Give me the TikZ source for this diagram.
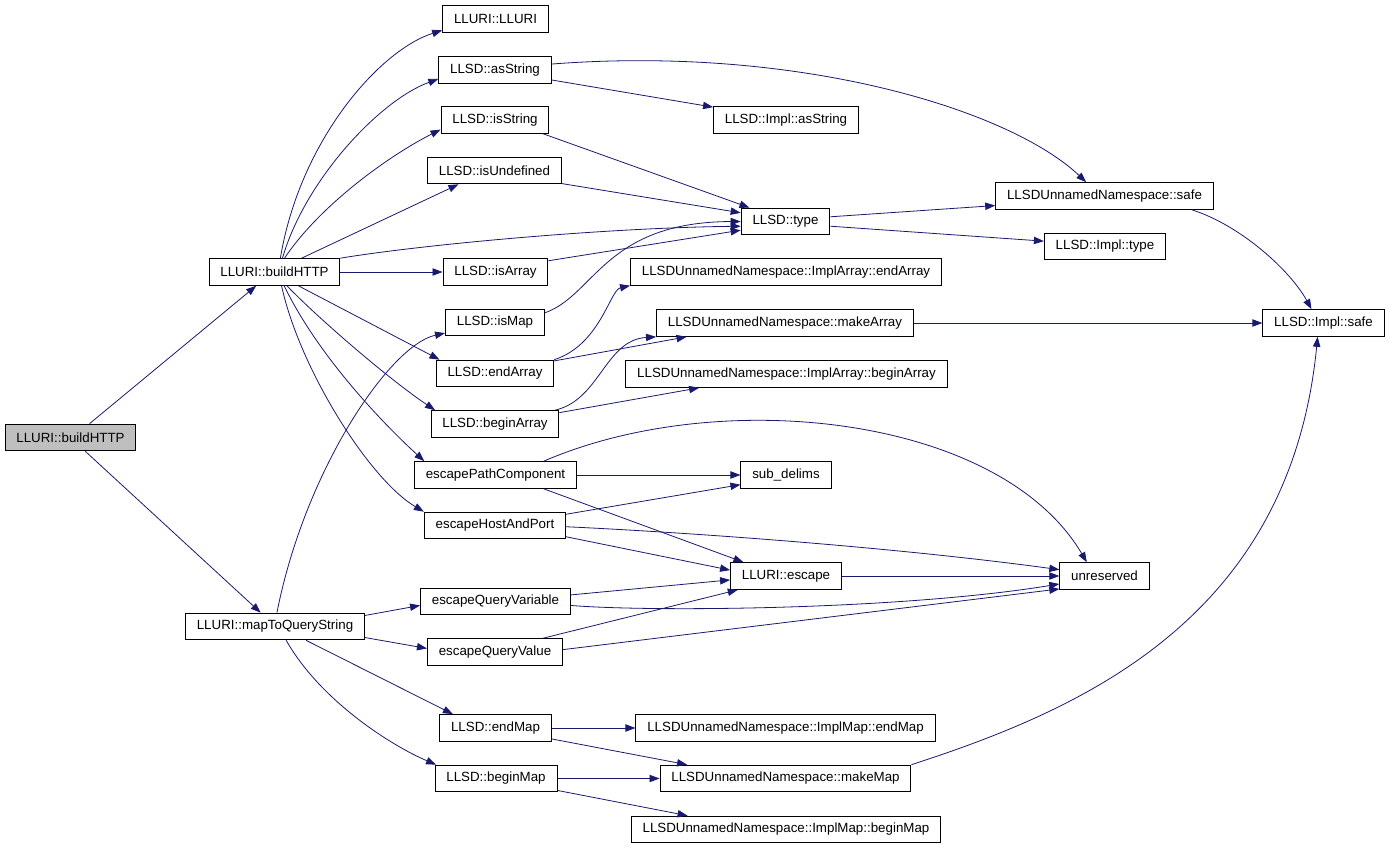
\documentclass[tikz,border=0pt]{standalone}
\usepackage{fontspec}
\setmainfont{Liberation Sans}
\usetikzlibrary{arrows.meta}
\definecolor{edgeblue}{RGB}{25,25,112}
\tikzset{
	callnode/.style = {draw=black, rectangle, line width=0.75pt, inner xsep=8.5pt,
		inner ysep=0pt, minimum height=20pt, font=\fontsize{10}{12}\selectfont},
	rootnode/.style = {callnode, fill=black!25},
	call/.style = {edgeblue, line width=0.6pt}
}
\begin{document}
\begin{tikzpicture}[x=0.75pt,y=-0.75pt,->,>={Triangle[length=7.5pt,width=5.5pt]}]
\useasboundingbox (0,0) rectangle (1389,848);
% callers
\node[rootnode] (root) at (70.5,437.5) {LLURI::buildHTTP};
\node[callnode] (bh) at (274.5,272) {LLURI::buildHTTP};
\node[callnode] (mq) at (275,626.5) {LLURI::mapToQueryString};
% second column
\node[callnode] (lluri) at (495.5,19) {LLURI::LLURI};
\node[callnode] (asstr) at (495,70) {LLSD::asString};
\node[callnode] (isstr) at (495,120) {LLSD::isString};
\node[callnode] (isundef) at (494.5,170.5) {LLSD::isUndefined};
\node[callnode] (isarr) at (495.5,272) {LLSD::isArray};
\node[callnode] (ismap) at (495,322.5) {LLSD::isMap};
\node[callnode] (endarr) at (495,373.5) {LLSD::endArray};
\node[callnode] (beginarr) at (495,424) {LLSD::beginArray};
\node[callnode] (escpath) at (495.5,475) {escapePathComponent};
\node[callnode] (eschost) at (495,525.5) {escapeHostAndPort};
\node[callnode] (escvar) at (495.5,601.5) {escapeQueryVariable};
\node[callnode] (escval) at (495,652) {escapeQueryValue};
\node[callnode] (endmap) at (495.5,728) {LLSD::endMap};
\node[callnode] (beginmap) at (496,778.5) {LLSD::beginMap};
% third column
\node[callnode] (implasstr) at (786,120) {LLSD::Impl::asString};
\node[callnode] (type) at (785.5,221.5) {LLSD::type};
\node[callnode] (iaend) at (786,272) {LLSDUnnamedNamespace::ImplArray::endArray};
\node[callnode] (makearr) at (785,323) {LLSDUnnamedNamespace::makeArray};
\node[callnode] (iabegin) at (786.5,374) {LLSDUnnamedNamespace::ImplArray::beginArray};
\node[callnode] (subdelims) at (786,475) {sub\_delims};
\node[callnode] (escape) at (786,576) {LLURI::escape};
\node[callnode] (imend) at (785.5,728) {LLSDUnnamedNamespace::ImplMap::endMap};
\node[callnode] (makemap) at (785.5,778.5) {LLSDUnnamedNamespace::makeMap};
\node[callnode] (imbegin) at (786,829.5) {LLSDUnnamedNamespace::ImplMap::beginMap};
% right columns
\node[callnode] (nssafe) at (1104.5,196) {LLSDUnnamedNamespace::safe};
\node[callnode] (impltype) at (1105,246.5) {LLSD::Impl::type};
\node[callnode] (unres) at (1104.5,576) {unreserved};
\node[callnode] (implsafe) at (1323.5,323) {LLSD::Impl::safe};

\draw[call] (root.36) -- (bh.-143);
\draw[call] (root.-43) -- (mq.136);

\draw[call] (bh.67) .. controls (300,140) and (380,50) .. (lluri.192);
\draw[call] (bh.60) .. controls (305,180) and (380,100) .. (asstr.189);
\draw[call] (bh.54) .. controls (320,205) and (390,155) .. (isstr.190);
\draw[call] (bh.27) -- (isundef.201);
\draw[call] (bh.north east) .. controls (420,245) and (600,228) .. (type.186);
\draw[call] (bh.east) -- (isarr.west);
\draw[call] (bh.-30) -- (endarr.166);
\draw[call] (bh.-48) .. controls (320,320) and (390,380) .. (beginarr.167);
\draw[call] (bh.-55) .. controls (320,360) and (390,430) .. (escpath.169);
\draw[call] (bh.-63) .. controls (300,370) and (370,480) .. (eschost.169);

\draw[call] (mq.82) .. controls (305,470) and (390,345) .. (ismap.192);
\draw[call] (mq.7) -- (escvar.183);
\draw[call] (mq.-7) -- (escval.177);
\draw[call] (mq.-24) -- (endmap.162);
\draw[call] (mq.-51) .. controls (320,700) and (390,745) .. (beginmap.167);

\draw[call] (asstr.-10) -- (implasstr.170);
\draw[call] (asstr.6) .. controls (800,45) and (1010,110) .. (nssafe.143);
\draw[call] (isstr.-16) -- (type.159);
\draw[call] (isundef.-11) -- (type.169);
\draw[call] (isarr.12) -- (type.191);
\draw[call] (ismap.11) .. controls (595,295) and (605,222) .. (type.west);
\draw[call] (type.6) -- (nssafe.185);
\draw[call] (type.-6) -- (impltype.175);
\draw[call] (nssafe.-9) .. controls (1240,225) and (1290,270) .. (implsafe.131);

\draw[call] (endarr.north east) .. controls (600,345) and (610,290) .. (iaend.185.5);
\draw[call] (endarr.12) -- (makearr.188);
\draw[call] (beginarr.13) .. controls (600,400) and (605,340) .. (makearr.south west);
\draw[call] (beginarr.10) -- (iabegin.189);
\draw[call] (makearr.east) -- (implsafe.west);

\draw[call] (escpath.16) .. controls (720,385) and (1000,415) .. (unres.142);
\draw[call] (escpath.east) -- (subdelims.west);
\draw[call] (escpath.-16) -- (escape.162);
\draw[call] (eschost.9) -- (subdelims.192);
\draw[call] (eschost.-1) .. controls (700,533) and (900,548) .. (unres.172);
\draw[call] (eschost.-9) -- (escape.174);
\draw[call] (escvar.5) -- (escape.184);
\draw[call] (escvar.-3) .. controls (650,612) and (900,610) .. (unres.190);
\draw[call] (escval.16) -- (escape.196);
\draw[call] (escval.2) -- (unres.196);
\draw[call] (escape.east) -- (unres.west);

\draw[call] (endmap.east) -- (imend.west);
\draw[call] (endmap.-11) -- (makemap.172);
\draw[call] (beginmap.east) -- (makemap.west);
\draw[call] (beginmap.-11) -- (imbegin.172);
\draw[call] (makemap.north east) .. controls (1080,710) and (1290,620) .. (implsafe.247);
\end{tikzpicture}
\end{document}
